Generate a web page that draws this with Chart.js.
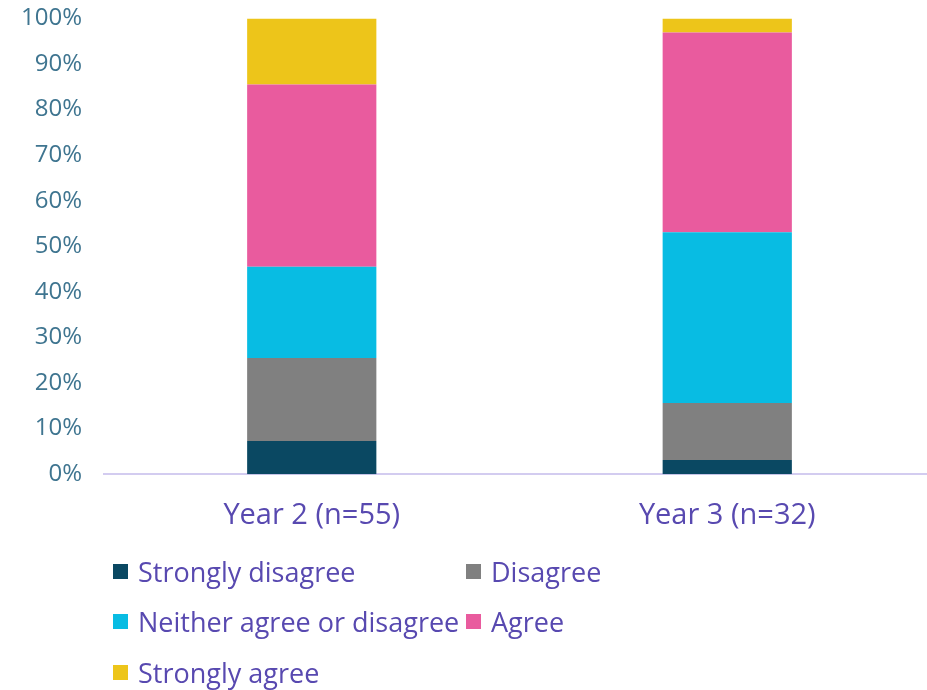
<!DOCTYPE html>
<html>
<head>
<meta charset="utf-8">
<script src="https://cdn.jsdelivr.net/npm/chart.js@4"></script>
<style>
  html, body { margin: 0; padding: 0; background: #fff; overflow: hidden; }
  .wrap { position: relative; width: 935px; height: 576px; margin-top: -18px; }
  .legend { position: absolute; left: 113px; top: 546px; display: grid;
    grid-template-columns: 353px auto; row-gap: 0; font-family: 'Open Sans', sans-serif;
    font-size: 27px; color: #5849b0; }
  .legend div { height: 50.5px; display: flex; align-items: center; white-space: nowrap; }
  .legend span { display: inline-block; width: 15px; height: 15px; margin-right: 10px; }
</style>
</head>
<body>
<div class="wrap"><canvas id="chart"></canvas></div>
<div class="legend" id="legend"></div>
<script>
// ==========================================
// Data
// ==========================================
const categories = ['Year 2 (n=55)', 'Year 3 (n=32)'];
const seriesNames = ['Strongly disagree', 'Disagree', 'Neither agree or disagree', 'Agree', 'Strongly agree'];
const seriesColors = ['#0a4862', '#808080', '#08bce3', '#e95b9e', '#edc51a'];
const stronglyDisagree = [7.3, 3.1];
const disagree = [18.2, 12.5];
const neither = [20.0, 37.5];
const agree = [40.0, 43.8];
const stronglyAgree = [14.5, 3.1];
const yTicks = [0, 10, 20, 30, 40, 50, 60, 70, 80, 90, 100];

const seriesValues = [stronglyDisagree, disagree, neither, agree, stronglyAgree];

const ctx = document.getElementById('chart');

new Chart(ctx, {
    type: 'bar',
    data: {
        labels: categories,
        datasets: seriesNames.map((name, i) => ({
            label: name,
            data: seriesValues[i],
            backgroundColor: seriesColors[i],
            borderWidth: 0,
            barPercentage: 1,
            categoryPercentage: 0.311
        }))
    },
    options: {
        responsive: true,
        maintainAspectRatio: false,
        animation: false,
        layout: { padding: { top: 8, bottom: 9, left: 0, right: 0 } },
        plugins: {
            legend: { display: false },
            tooltip: { enabled: false }
        },
        scales: {
            x: {
                stacked: true,
                grid: { display: false },
                border: { color: '#d3ccf0', width: 2 },
                ticks: {
                    padding: 16,
                    color: '#5849b0',
                    font: { family: 'Open Sans', size: 29 }
                }
            },
            y: {
                stacked: true,
                min: 0,
                max: 100,
                afterFit: scale => { scale.width = 104; },
                afterBuildTicks: scale => { scale.ticks = yTicks.map(v => ({ value: v })); },
                grid: { display: false, drawTicks: false },
                border: { display: false },
                ticks: {
                    padding: 22,
                    color: '#3f7590',
                    font: { family: 'Open Sans', size: 24 },
                    callback: v => v + '%'
                }
            }
        }
    }
});

// ==========================================
// Legend (two columns, built from series)
// ==========================================
const legend = document.getElementById('legend');
seriesNames.forEach((name, i) => {
    const item = document.createElement('div');
    item.innerHTML = `<span style="background:${seriesColors[i]}"></span>${name}`;
    legend.appendChild(item);
});
</script>
</body>
</html>
